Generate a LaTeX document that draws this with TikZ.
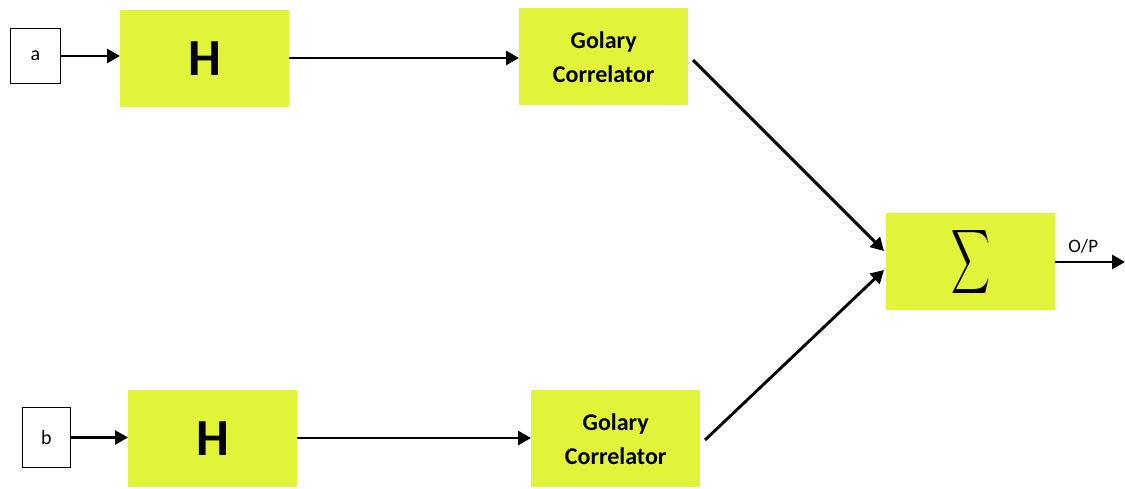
\documentclass[tikz,border=0pt]{standalone}
\usepackage{fontspec}
\usepackage{graphicx}
\setmainfont{Carlito}
\usetikzlibrary{arrows.meta}
\definecolor{boxy}{HTML}{E2F43A}
\begin{document}
\begin{tikzpicture}[x=1pt,y=-1pt,
  blk/.style={fill=boxy,draw=none,minimum width=169pt,minimum height=97pt,inner sep=0pt,anchor=north west,align=center},
  inbox/.style={draw=black,line width=1pt,fill=white,inner sep=0pt,anchor=north west},
  arr/.style={line width=2.9pt,-{Triangle[length=13pt,width=14pt]}},
  gtxt/.style={font=\fontsize{24}{34}\selectfont\bfseries}]
\useasboundingbox (0,0) rectangle (1125,489);
\node[inbox,minimum width=50pt,minimum height=55pt,font=\fontsize{20}{24}\selectfont] (a) at (10,28) {a};
\node[blk,font=\fontsize{52}{60}\selectfont\bfseries] (h1) at (120,10) {H};
\node[blk,gtxt] (g1) at (519,8) {Golary\\Correlator};
\node[inbox,minimum width=48pt,minimum height=60pt,font=\fontsize{20}{24}\selectfont] (b) at (22,407) {b};
\node[blk,font=\fontsize{52}{60}\selectfont\bfseries] (h2) at (128,390) {H};
\node[blk,gtxt] (g2) at (531,390) {Golary\\Correlator};
\node[blk] (s) at (886,213) {\raisebox{-4pt}{\scalebox{2.7}[4.5]{$\displaystyle\sum$}}};
\coordinate (out) at (1125,262);
\coordinate (g1o) at (693,60);
\coordinate (g2o) at (705,440);
\coordinate (s1) at (884,251);
\coordinate (s2) at (884,270);
\draw[arr] (a.east) -- (h1.west |- a.east);
\draw[arr] (h1.east |- 0,58) -- (g1.west |- 0,58);
\draw[arr] (b.east) -- (h2.west |- b.east);
\draw[arr] (h2.east |- 0,438) -- (g2.west |- 0,438);
\draw[arr] (g1o) -- (s1);
\draw[arr] (g2o) -- (s2);
\draw[arr] (s.east |- out) -- node[above,pos=0.4,font=\fontsize{19}{22}\selectfont,yshift=4pt] (op) {O/P} (out);
\end{tikzpicture}
\end{document}
